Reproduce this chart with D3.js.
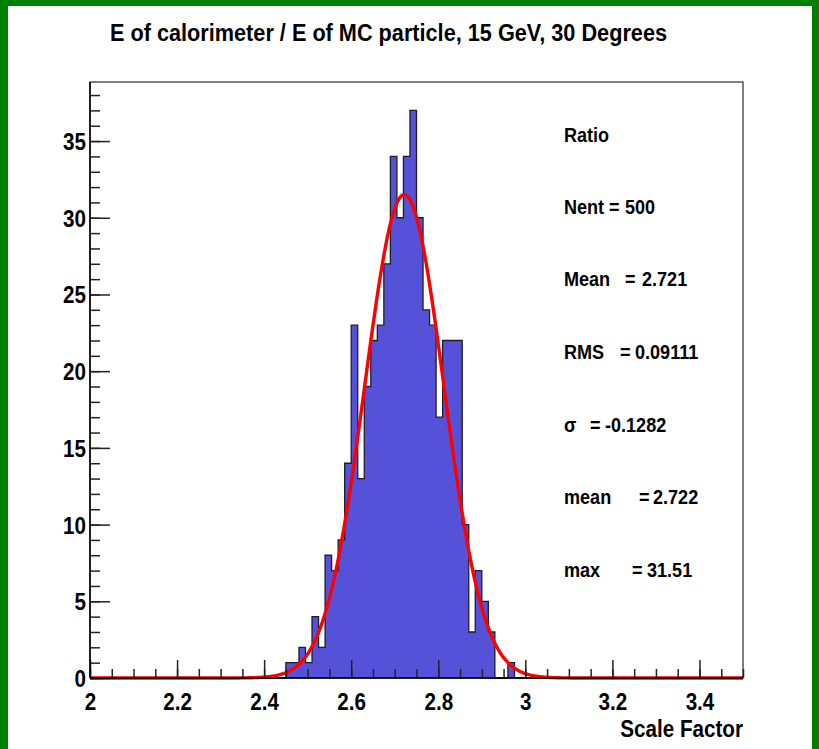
<!DOCTYPE html>
<html>
<head>
<meta charset="utf-8">
<script src="https://cdn.jsdelivr.net/npm/d3@7"></script>
<style>
  body { margin: 0; background: #fff; }
  svg { display: block; }
  text { font-family: "Liberation Sans", Arial, Helvetica, sans-serif; font-weight: bold; fill: #000; }
</style>
</head>
<body>
<script>
// histogram: 100 bins from 2 to 3.5, only bins 30..64 are filled
var xMin = 2, xMax = 3.5, nBins = 100;
var firstBin = 30;
var counts = [1, 1, 2, 1, 4, 2, 8, 7, 9, 14, 23, 13, 19, 22, 23, 27, 34, 30, 34, 37,
              30, 24, 23, 17, 22, 22, 22, 10, 3, 7, 5, 3, 0, 0, 1];

// gaussian fit parameters (as printed in the stats box)
var fitMax = 31.51, fitMean = 2.722, fitSigma = 0.1282;

var xTicks = [2, 2.2, 2.4, 2.6, 2.8, 3, 3.2, 3.4];
var yTicks = [0, 5, 10, 15, 20, 25, 30, 35];
var yMax = 38.85;

var statLabels = ["Ratio", "Nent", "Mean", "RMS", "\u03c3", "mean", "max"];
var statValues = ["", "500", "2.721", "0.09111", "-0.1282", "2.722", "31.51"];

(function() {
var W = 819, H = 749;
var pL = 90, pR = 743, pT = 82, pB = 678;
var squeeze = 0.86;

var svg = d3.select("body").append("svg").attr("width", W).attr("height", H);

svg.append("rect").attr("width", W).attr("height", H).attr("fill", "#fff");
// green canvas border
svg.append("rect").attr("x", 0).attr("y", 0).attr("width", 8).attr("height", H).attr("fill", "#008000");
svg.append("rect").attr("x", 0).attr("y", 0).attr("width", W).attr("height", 6).attr("fill", "#008000");
svg.append("rect").attr("x", 812).attr("y", 0).attr("width", 7).attr("height", H).attr("fill", "#008000");

var x = d3.scaleLinear().domain([xMin, xMax]).range([pL, pR]);
var y = d3.scaleLinear().domain([0, yMax]).range([pB, pT]);

var binW = (xMax - xMin) / nBins;
var bins = d3.range(nBins).map(function(i) {
  var j = i - firstBin;
  return { x0: xMin + i * binW, n: (j >= 0 && j < counts.length) ? counts[j] : 0 };
});
var steps = bins.concat([{ x0: xMax, n: 0 }]);

svg.append("path")
  .datum(steps)
  .attr("d", d3.area().x(function(d) { return x(d.x0); }).y0(y(0)).y1(function(d) { return y(d.n); }).curve(d3.curveStepAfter))
  .attr("fill", "#5552d9");
svg.append("path")
  .datum(steps)
  .attr("d", d3.line().x(function(d) { return x(d.x0); }).y(function(d) { return y(d.n); }).curve(d3.curveStepAfter))
  .attr("fill", "none").attr("stroke", "#1e1e2a").attr("stroke-width", 1.3);

// fit curve
var fitPts = d3.range(xMin, xMax + 1e-9, 0.002).map(function(v) {
  return [v, fitMax * Math.exp(-Math.pow((v - fitMean) / fitSigma, 2))];
});
svg.append("path")
  .datum(fitPts)
  .attr("d", d3.line().x(function(d) { return x(d[0]); }).y(function(d) { return y(d[1]); }))
  .attr("fill", "none").attr("stroke", "#ff0000").attr("stroke-width", 3.4);

// frame
svg.append("rect").attr("x", pL).attr("y", pT).attr("width", pR - pL).attr("height", pB - pT)
  .attr("fill", "none").attr("stroke", "#000").attr("stroke-width", 1);

// minor ticks
svg.append("g").attr("transform", "translate(0," + pB + ")")
  .call(d3.axisBottom(x).tickValues(d3.range(0, 31).map(function(i) { return xMin + i * 0.05; })).tickSize(-9).tickFormat(""))
  .call(function(g) { g.select(".domain").remove(); });
svg.append("g").attr("transform", "translate(" + pL + ",0)")
  .call(d3.axisLeft(y).tickValues(d3.range(0, 39)).tickSize(-10).tickFormat(""))
  .call(function(g) { g.select(".domain").remove(); });

// major ticks + labels
var xAxis = svg.append("g").attr("transform", "translate(0," + pB + ")")
  .call(d3.axisBottom(x).tickValues(xTicks).tickSize(-18).tickFormat(d3.format("")))
  .call(function(g) { g.select(".domain").remove(); });
var yAxis = svg.append("g").attr("transform", "translate(" + pL + ",0)")
  .call(d3.axisLeft(y).tickValues(yTicks).tickSize(-20).tickFormat(d3.format("d")))
  .call(function(g) { g.select(".domain").remove(); });

svg.selectAll(".tick line").attr("stroke", "#222").attr("stroke-width", 1.5);

xAxis.selectAll("text")
  .attr("y", null).attr("dy", null)
  .attr("font-size", 24).attr("text-anchor", "middle")
  .attr("transform", "translate(0,32) scale(" + squeeze + ",1)");
yAxis.selectAll("text")
  .attr("x", null).attr("dy", null)
  .attr("font-size", 24).attr("text-anchor", "end")
  .attr("transform", "translate(-4,8.5) scale(" + squeeze + ",1)");

// axis lines
svg.append("line").attr("x1", pL).attr("x2", pR).attr("y1", pB).attr("y2", pB)
  .attr("stroke", "#000").attr("stroke-width", 1.5);
svg.append("line").attr("x1", pL).attr("x2", pL).attr("y1", pT).attr("y2", pB)
  .attr("stroke", "#000").attr("stroke-width", 1.5);

function label(s, px, py, size, anchor) {
  return svg.append("text")
    .attr("transform", "translate(" + px + "," + py + ") scale(" + squeeze + ",1)")
    .attr("font-size", size).attr("text-anchor", anchor || "start")
    .text(s);
}

// title
svg.append("text").attr("x", 110).attr("y", 41).attr("font-size", 23)
  .attr("textLength", 557).attr("lengthAdjust", "spacingAndGlyphs")
  .text("E of calorimeter / E of MC particle, 15 GeV, 30 Degrees");

label("Scale Factor", 743, 737, 24, "end");

// stats box text
var eqX = [0, 609, 625, 620, 590, 639, 632];
var valX = [0, 625, 642, 635, 605, 653, 647];
var baseY = [142, 214, 286, 359, 432, 504, 577];
statLabels.forEach(function(s, i) {
  label(s, 564, baseY[i], 21);
  if (statValues[i]) {
    label("=", eqX[i], baseY[i], 21);
    label(statValues[i], valX[i], baseY[i], 21);
  }
});
})();
</script>
</body>
</html>
